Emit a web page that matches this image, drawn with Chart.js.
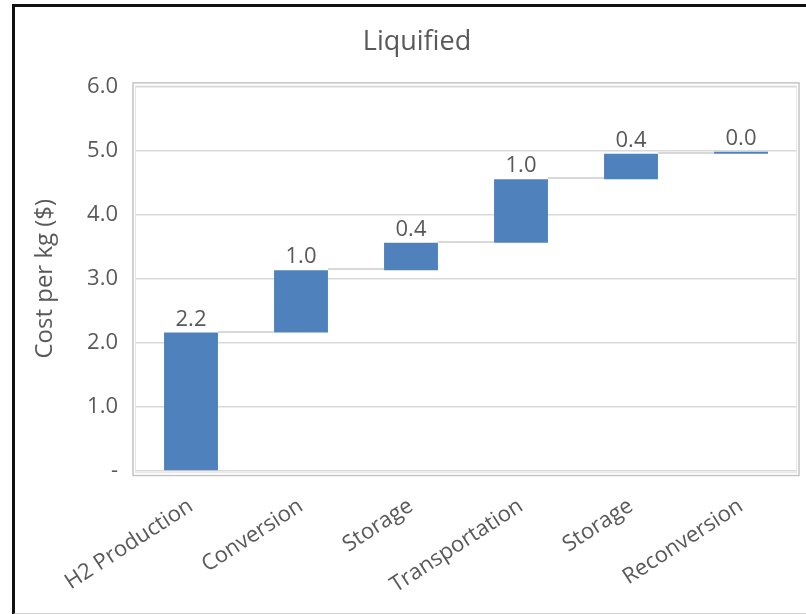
<!DOCTYPE html>
<html>
<head>
<meta charset="utf-8">
<script src="https://cdn.jsdelivr.net/npm/chart.js@4.4.1/dist/chart.umd.min.js"></script>
<style>
  html, body { margin: 0; padding: 0; background: #fff; }
  #wrap { position: relative; width: 806px; height: 614px; overflow: hidden; }
  #frame {
    position: absolute; left: 12px; top: 4px; width: 800px; height: 606px;
    border-left: 3px solid #111; border-top: 3px solid #111; border-bottom: 2px solid #d0d0d0;
    pointer-events: none; box-sizing: content-box;
  }
  canvas { position: absolute; left: 0; top: 0; }
</style>
</head>
<body>
<div id="wrap">
  <canvas id="c" width="806" height="614"></canvas>
  <div id="frame"></div>
</div>
<script>
// Cost steps of the liquified hydrogen chain, $ per kg
const categories = ['H2 Production', 'Conversion', 'Storage', 'Transportation', 'Storage', 'Reconversion'];
const stepCosts = [2.16, 0.97, 0.43, 0.99, 0.40, 0.03];
const yTicks = [0, 1, 2, 3, 4, 5, 6];

// Running totals give each floating bar its start and end
const ranges = [];
let running = 0;
for (const c of stepCosts) {
  ranges.push([running, running + c]);
  running += c;
}

const FONT = "'Open Sans', 'Noto Sans', sans-serif";
const GREY_TEXT = '#595959';

// Framed plot area with a soft double border
const plotBox = {
  id: 'plotBox',
  beforeDraw(chart) {
    const { ctx, chartArea: a } = chart;
    ctx.save();
    ctx.lineWidth = 1.5;
    ctx.strokeStyle = '#c4c4c4';
    ctx.strokeRect(a.left - 3, a.top - 3.5, a.right - a.left + 6, a.bottom - a.top + 8);
    ctx.strokeStyle = '#e6e6e6';
    ctx.lineWidth = 1;
    ctx.strokeRect(a.left - 0.5, a.top - 0.5, a.right - a.left + 1, a.bottom - a.top + 2);
    ctx.restore();
  }
};

// Connector lines between consecutive bars plus value labels above each bar
const waterfallDecor = {
  id: 'waterfallDecor',
  afterDatasetsDraw(chart) {
    const { ctx } = chart;
    const meta = chart.getDatasetMeta(0);
    const y = chart.scales.y;
    ctx.save();
    ctx.strokeStyle = '#d9d9d9';
    ctx.lineWidth = 2;
    for (let i = 0; i < meta.data.length - 1; i++) {
      const cur = meta.data[i], next = meta.data[i + 1];
      const ly = Math.round(y.getPixelForValue(ranges[i][1])) - 1;
      ctx.beginPath();
      ctx.moveTo(cur.x + cur.width / 2, ly);
      ctx.lineTo(next.x - next.width / 2, ly);
      ctx.stroke();
    }
    ctx.fillStyle = GREY_TEXT;
    ctx.font = '22px ' + FONT;
    ctx.textAlign = 'center';
    ctx.textBaseline = 'alphabetic';
    meta.data.forEach((bar, i) => {
      const top = y.getPixelForValue(ranges[i][1]);
      ctx.fillText(stepCosts[i].toFixed(1), bar.x, top - 7);
    });
    ctx.restore();
  }
};

new Chart(document.getElementById('c'), {
  type: 'bar',
  data: {
    labels: categories,
    datasets: [{
      data: ranges,
      backgroundColor: '#4f81bd',
      borderWidth: 0,
      barPercentage: 0.49,
      categoryPercentage: 1.0
    }]
  },
  options: {
    responsive: false,
    animation: false,
    layout: { padding: { left: 38, right: 10, top: 0, bottom: 0 } },
    plugins: {
      legend: { display: false },
      tooltip: { enabled: false },
      title: {
        display: true,
        text: 'Liquified',
        color: GREY_TEXT,
        font: { family: FONT, size: 27, weight: 'normal' },
        padding: { top: 26, bottom: 28 }
      }
    },
    scales: {
      x: {
        offset: true,
        grid: { display: false, drawTicks: false },
        border: { display: false },
        ticks: {
          color: GREY_TEXT,
          font: { family: FONT, size: 22 },
          minRotation: 33,
          maxRotation: 33,
          autoSkip: false,
          padding: 22
        },
        afterFit(scale) { scale.height = 143; }
      },
      y: {
        min: 0,
        max: 6,
        afterBuildTicks(scale) { scale.ticks = yTicks.map(v => ({ value: v })); },
        grid: { color: '#d9d9d9', lineWidth: 1.5, drawTicks: false },
        border: { display: false },
        ticks: {
          color: GREY_TEXT,
          font: { family: FONT, size: 22 },
          padding: 18,
          callback: v => (v === 0 ? '-' : v.toFixed(1))
        },
        title: {
          display: true,
          text: 'Cost per kg ($)',
          color: GREY_TEXT,
          font: { family: FONT, size: 24, weight: 'normal' },
          padding: { top: -7, bottom: 0 }
        },
        afterFit(scale) { scale.width = 98; }
      }
    }
  },
  plugins: [plotBox, waterfallDecor]
});
</script>
</body>
</html>
